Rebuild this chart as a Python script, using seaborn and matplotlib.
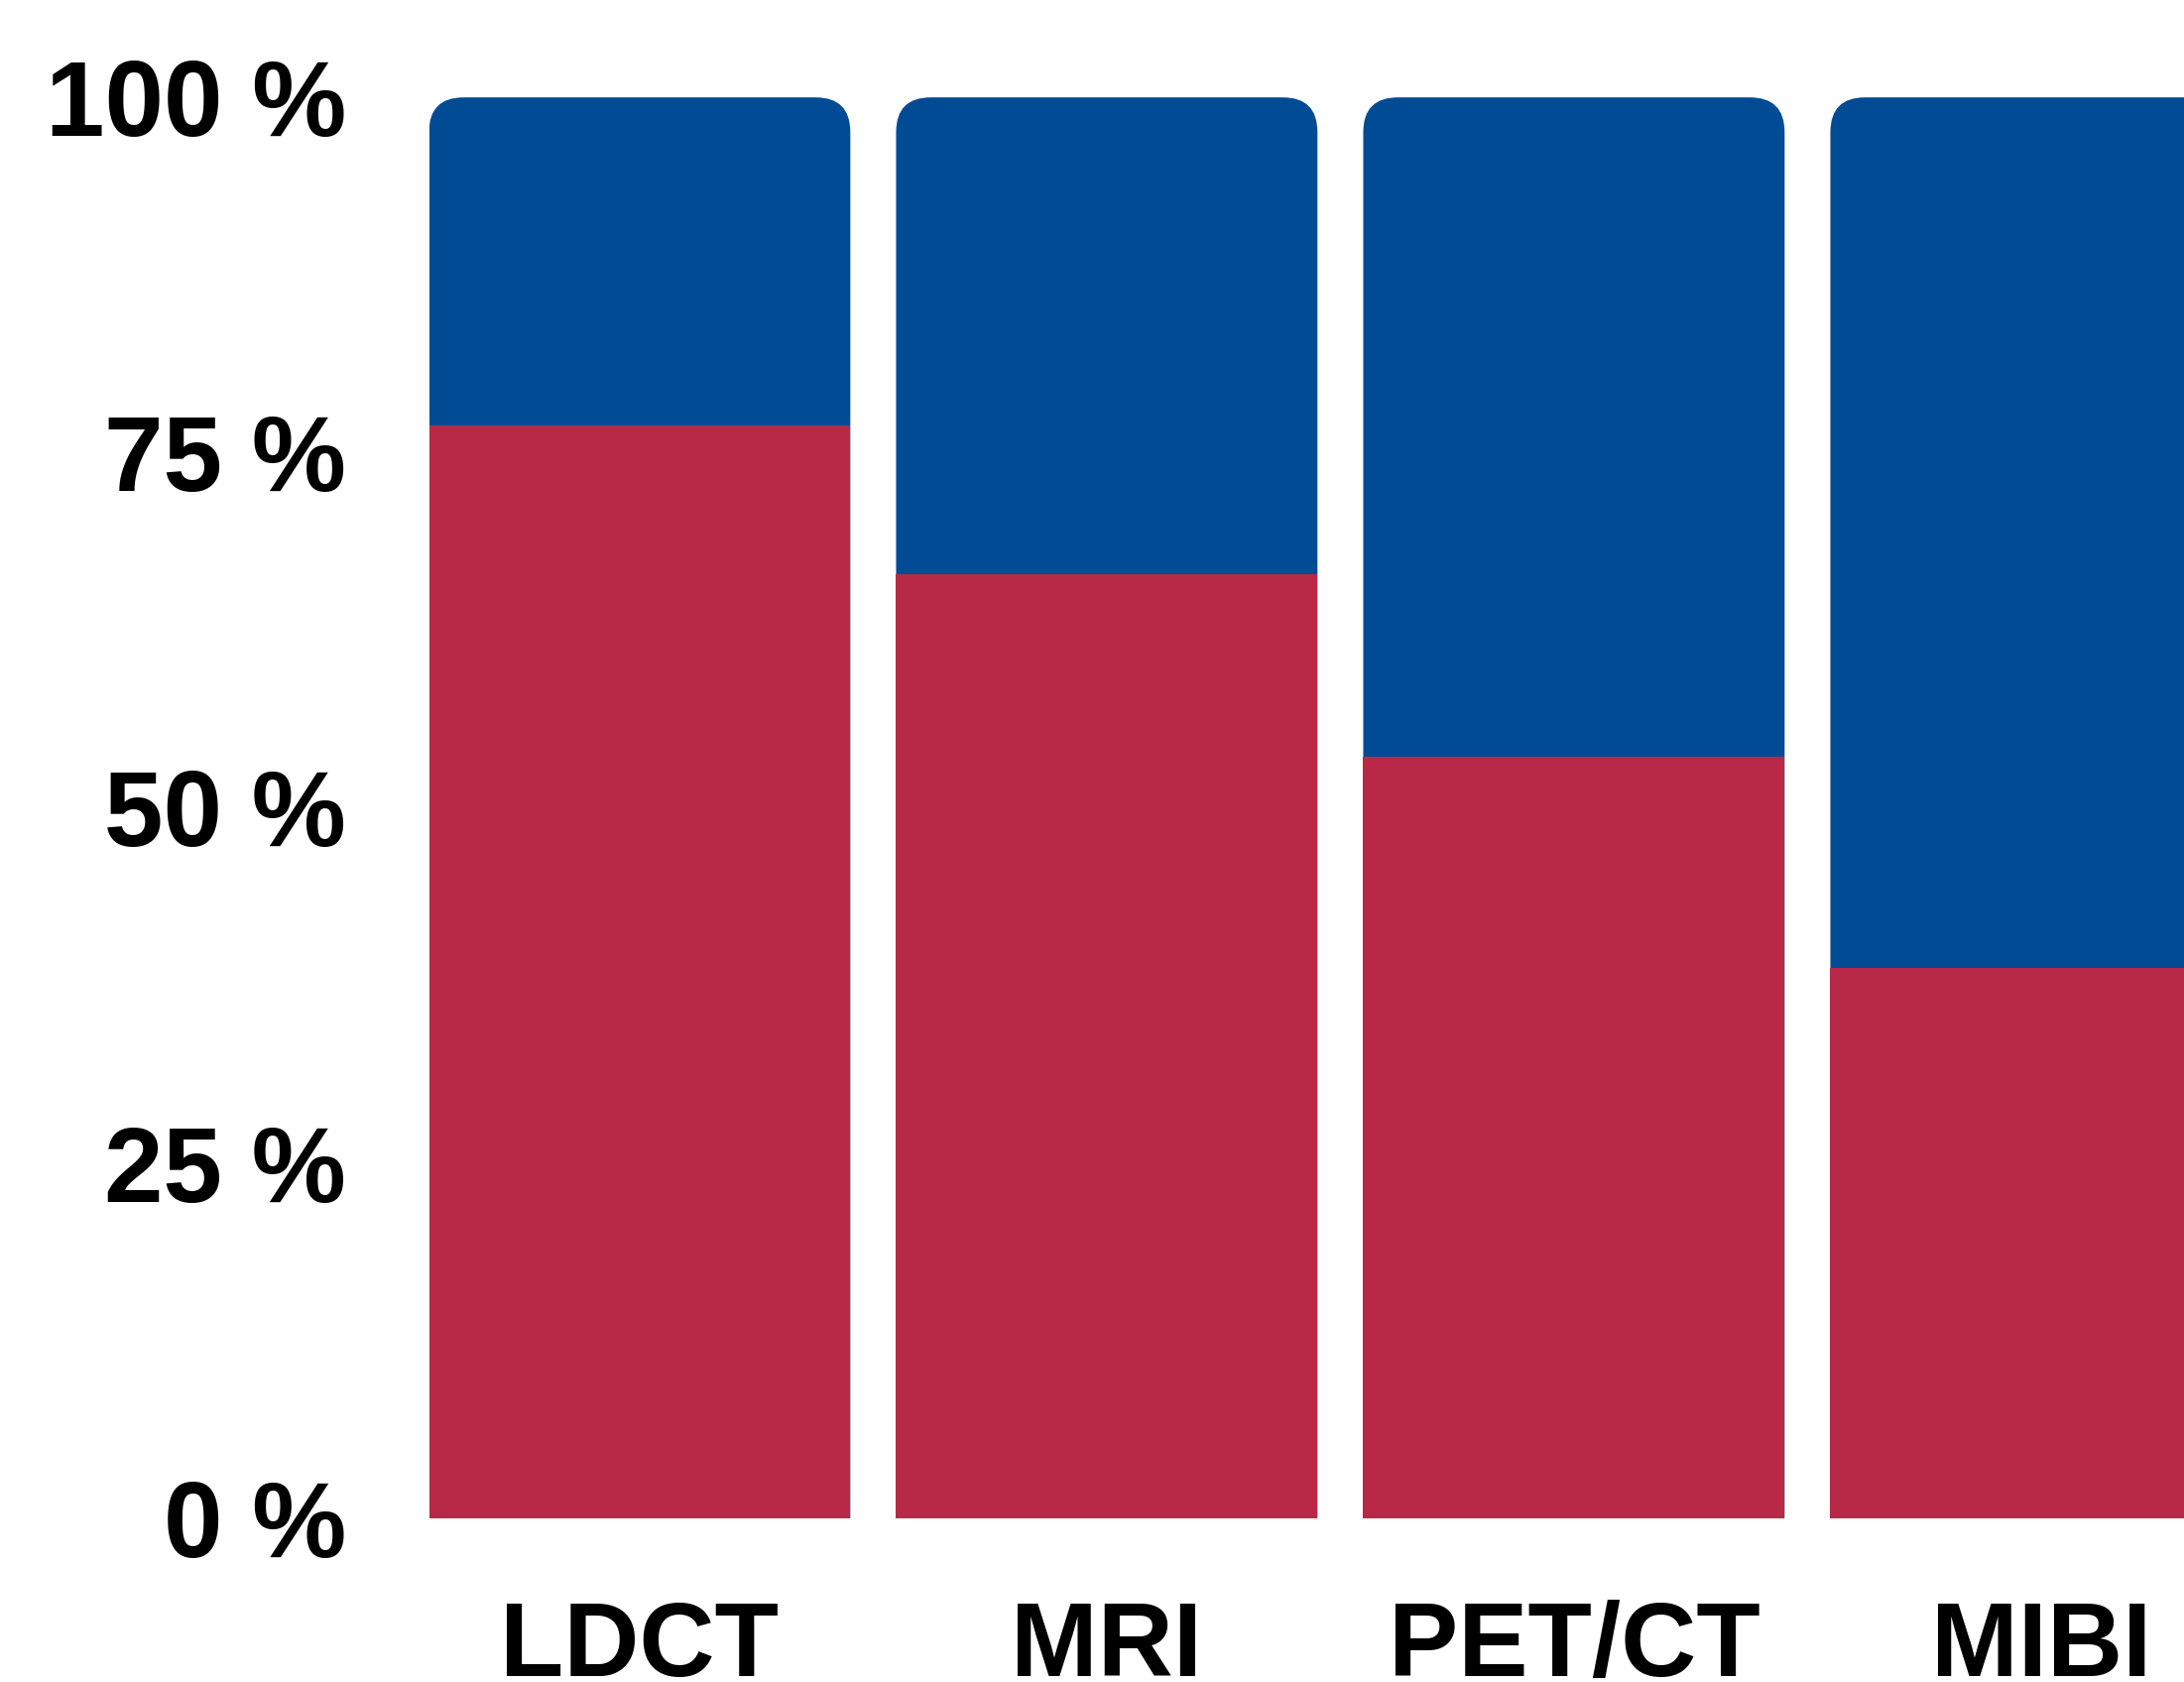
import matplotlib
matplotlib.use("Agg")
from matplotlib import pyplot as plt
from matplotlib.path import Path
from matplotlib.patches import PathPatch
import pandas as pd
import seaborn as sns

# valores
metodos = ["LDCT", "MRI", "PET/CT", "MIBI"]
parte_vermelha = [76.9, 66.4, 53.6, 38.7]
total = [100, 100, 100, 100]
ticks_y = [0, 25, 50, 75, 100]
rotulos_y = ["0 %", "25 %", "50 %", "75 %", "100 %"]

azul = "#004B94"
vermelho = "#B82947"

sns.set_theme(style="white")
plt.rcParams["font.family"] = ["Liberation Sans", "DejaVu Sans"]

df = pd.DataFrame({"metodo": metodos, "vermelho": parte_vermelha, "total": total})

fig = plt.figure(figsize=(22.02, 16.96), dpi=100)
ax = fig.add_axes([432.5 / 2202, 0.0975, 1 - 432.5 / 2202, 0.8446])

sns.barplot(data=df, x="metodo", y="total", color=azul, saturation=1, width=0.902, ax=ax, zorder=1)
barras_azuis = list(ax.patches)
sns.barplot(data=df, x="metodo", y="vermelho", color=vermelho, saturation=1, width=0.902, ax=ax, zorder=2)

ax.set_xlim(-0.451, 3.306)
ax.set_ylim(0, 100)

# arredondar os cantos de cima das barras azuis (raio ~35 px)
raio_px = 35
px_x = (3.306 + 0.451) / (2202 - 432.5)
px_y = 100 / (0.8446 * 1696)
rx, ry = raio_px * px_x, raio_px * px_y
for b in barras_azuis:
    x0, y0 = b.get_x(), b.get_y()
    x1, topo = x0 + b.get_width(), y0 + b.get_height()
    verts = [(x0, y0), (x0, topo - ry), (x0, topo), (x0 + rx, topo),
             (x1 - rx, topo), (x1, topo), (x1, topo - ry), (x1, y0), (x0, y0)]
    codes = [Path.MOVETO, Path.LINETO, Path.CURVE3, Path.CURVE3,
             Path.LINETO, Path.CURVE3, Path.CURVE3, Path.LINETO, Path.CLOSEPOLY]
    ax.add_patch(PathPatch(Path(verts, codes), facecolor=azul, edgecolor="none", zorder=1))
    b.remove()

for b in ax.patches:
    b.set_edgecolor("none")

ax.set_yticks(ticks_y)
ax.set_yticklabels(rotulos_y)
ax.set_xlabel("")
ax.set_ylabel("")
ax.tick_params(axis="y", length=0, pad=60, labelsize=77)
ax.tick_params(axis="x", length=0, pad=59, labelsize=76)
for t in ax.get_xticklabels() + ax.get_yticklabels():
    t.set_fontweight("bold")
    t.set_color("black")
sns.despine(ax=ax, left=True, bottom=True)
ax.set_facecolor("white")
fig.patch.set_facecolor("white")

fig.savefig("out.png", dpi=100)
